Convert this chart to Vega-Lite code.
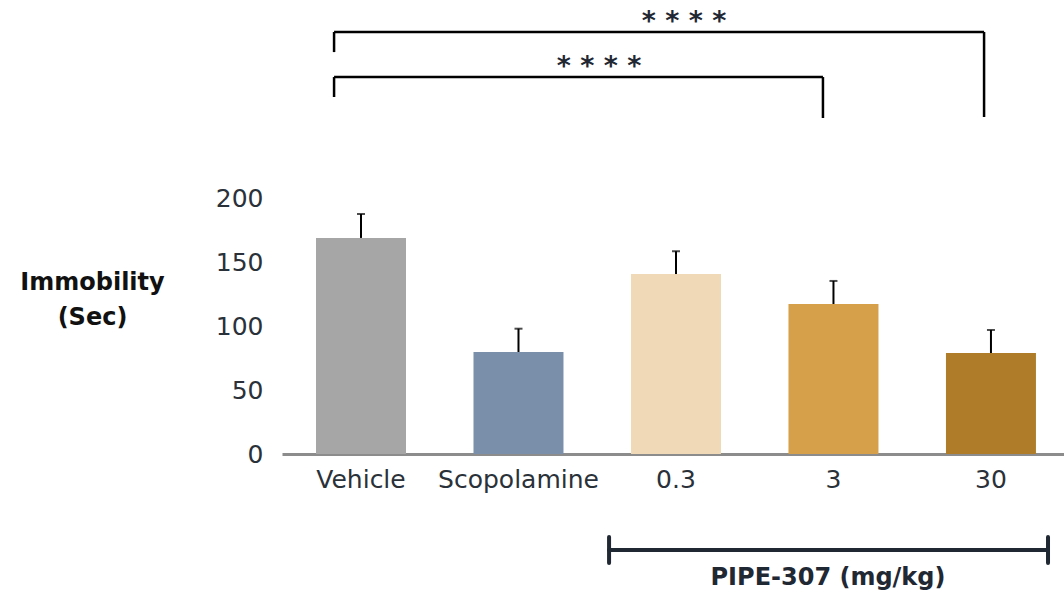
{
  "$schema": "https://vega.github.io/schema/vega-lite/v6.json",
  "width": 782,
  "height": 454,
  "autosize": "none",
  "padding": {"left": 282, "top": 0, "right": 0, "bottom": 138},
  "background": "white",
  "config": {"view": {"stroke": null}, "font": "DejaVu Sans"},
  "datasets": {
    "bars": [
      {"group": "Vehicle", "mean": 168.8, "upper": 187.5},
      {"group": "Scopolamine", "mean": 79.7, "upper": 97.9},
      {"group": "0.3", "mean": 140.6, "upper": 158.4},
      {"group": "3", "mean": 117.2, "upper": 135.2},
      {"group": "30", "mean": 78.9, "upper": 96.9}
    ],
    "brackets": [
      {"x": -0.171, "x2": 3.956, "y": 329.7, "y2": 329.7},
      {"x": -0.171, "x2": -0.171, "y": 329.7, "y2": 314.0},
      {"x": 3.956, "x2": 3.956, "y": 329.7, "y2": 263.3},
      {"x": -0.171, "x2": 2.933, "y": 294.5, "y2": 294.5},
      {"x": -0.171, "x2": -0.171, "y": 294.5, "y2": 278.9},
      {"x": 2.933, "x2": 2.933, "y": 294.5, "y2": 262.5}
    ],
    "dose": [
      {"x": 1.575, "x2": 4.362, "y": -75.0, "y2": -75.0},
      {"x": 1.575, "x2": 1.575, "y": -64.8, "y2": -85.2},
      {"x": 4.362, "x2": 4.362, "y": -64.8, "y2": -85.2}
    ],
    "stars": [
      {"x": 2.051, "y": 337.5, "label": "* * * *"},
      {"x": 1.511, "y": 302.4, "label": "* * * *"}
    ],
    "doseLabel": [
      {"x": 2.965, "y": -96.5, "label": "PIPE-307 (mg/kg)"}
    ]
  },
  "layer": [
    {
      "data": {"name": "bars"},
      "encoding": {
        "x": {
          "field": "group",
          "type": "nominal",
          "sort": null,
          "scale": {"paddingInner": 0.4286, "paddingOuter": 0.197, "align": 0.548},
          "axis": {
            "title": null,
            "labelAngle": 0,
            "ticks": false,
            "labelPadding": 13,
            "labelFontSize": 25,
            "labelColor": "#2a3139",
            "labelFont": "DejaVu Sans",
            "domainColor": "#8c8c8c",
            "domainWidth": 3
          }
        }
      },
      "layer": [
        {
          "mark": {"type": "bar"},
          "encoding": {
            "y": {
              "field": "mean",
              "type": "quantitative",
              "scale": {"domain": [0, 354.69], "nice": false},
              "axis": {
                "values": [0, 50, 100, 150, 200],
                "grid": false,
                "domain": false,
                "ticks": false,
                "labelPadding": 19,
                "labelFontSize": 25,
                "labelColor": "#2a3139",
                "labelFont": "DejaVu Sans",
                "title": ["Immobility", "(Sec)"],
                "titleAngle": 0,
                "titleAlign": "center",
                "titleBaseline": "middle",
                "titleX": -190,
                "titleY": 282,
                "titleFontSize": 24,
                "titleFontWeight": "bold",
                "titleColor": "#111111",
                "titleFont": "DejaVu Sans",
                "titleLineHeight": 35
              }
            },
            "color": {
              "field": "group",
              "type": "nominal",
              "scale": {
                "domain": ["Vehicle", "Scopolamine", "0.3", "3", "30"],
                "range": ["#a6a6a6", "#7a8fa9", "#efd9b7", "#d69f49", "#af7d2a"]
              },
              "legend": null
            }
          }
        },
        {
          "mark": {"type": "rule", "color": "#000000", "strokeWidth": 2},
          "encoding": {
            "y": {"field": "mean", "type": "quantitative", "scale": {"domain": [0, 354.69], "nice": false}},
            "y2": {"field": "upper"}
          }
        },
        {
          "mark": {"type": "tick", "color": "#000000", "thickness": 2, "size": 8},
          "encoding": {
            "y": {"field": "upper", "type": "quantitative", "scale": {"domain": [0, 354.69], "nice": false}}
          }
        }
      ]
    },
    {
      "data": {"name": "brackets"},
      "mark": {"type": "rule", "color": "#000000", "strokeWidth": 2.5},
      "encoding": {
        "x": {"field": "x", "type": "quantitative", "scale": {"domain": [-0.5016, 4.4635], "nice": false, "zero": false}, "axis": null},
        "x2": {"field": "x2"},
        "y": {"field": "y", "type": "quantitative", "scale": {"domain": [0, 354.69], "nice": false}, "axis": null},
        "y2": {"field": "y2"}
      }
    },
    {
      "data": {"name": "dose"},
      "mark": {"type": "rule", "color": "#1f2833", "strokeWidth": 4, "strokeCap": "round"},
      "encoding": {
        "x": {"field": "x", "type": "quantitative", "scale": {"domain": [-0.5016, 4.4635], "nice": false, "zero": false}, "axis": null},
        "x2": {"field": "x2"},
        "y": {"field": "y", "type": "quantitative", "scale": {"domain": [0, 354.69], "nice": false}, "axis": null},
        "y2": {"field": "y2"}
      }
    },
    {
      "data": {"name": "stars"},
      "mark": {"type": "text", "fontSize": 27, "fontWeight": "bold", "color": "#1f2833", "baseline": "middle", "align": "center", "font": "DejaVu Sans"},
      "encoding": {
        "x": {"field": "x", "type": "quantitative", "scale": {"domain": [-0.5016, 4.4635], "nice": false, "zero": false}, "axis": null},
        "y": {"field": "y", "type": "quantitative", "scale": {"domain": [0, 354.69], "nice": false}, "axis": null},
        "text": {"field": "label"}
      }
    },
    {
      "data": {"name": "doseLabel"},
      "mark": {"type": "text", "fontSize": 24, "fontWeight": "bold", "color": "#1f2833", "baseline": "middle", "align": "center", "font": "DejaVu Sans"},
      "encoding": {
        "x": {"field": "x", "type": "quantitative", "scale": {"domain": [-0.5016, 4.4635], "nice": false, "zero": false}, "axis": null},
        "y": {"field": "y", "type": "quantitative", "scale": {"domain": [0, 354.69], "nice": false}, "axis": null},
        "text": {"field": "label"}
      }
    }
  ],
  "resolve": {"scale": {"x": "independent"}, "axis": {"y": "independent"}}
}
